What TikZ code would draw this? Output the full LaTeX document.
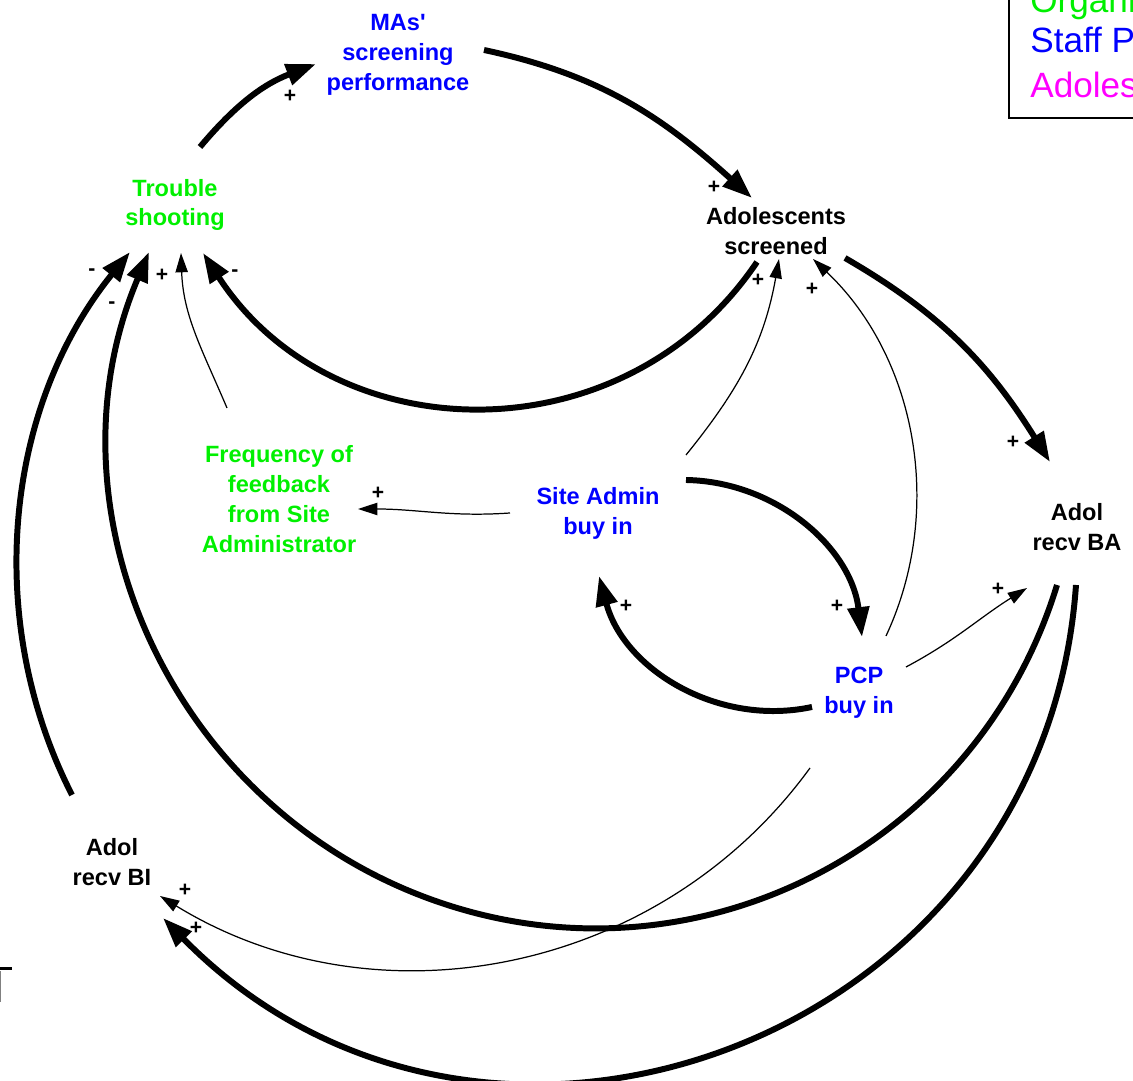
\documentclass[tikz,border=0pt]{standalone}
\usepackage{fontspec}
\setmainfont{Liberation Sans}
\usepackage{xcolor}
\usetikzlibrary{arrows.meta}

\definecolor{orggreen}{RGB}{0,240,0}
\definecolor{staffblue}{RGB}{0,0,255}
\definecolor{adolmagenta}{RGB}{255,0,255}

\begin{document}
\begin{tikzpicture}[x=0.02cm, y=0.02cm,
    var/.style={font=\bfseries\fontsize{13.4}{17}\selectfont, align=center, inner sep=0pt},
    sgn/.style={font=\bfseries\fontsize{12}{12}\selectfont, inner sep=0pt},
    strong/.style={line width=3.4pt, -{Triangle[length=17pt,width=12pt]}},
    weak/.style={line width=0.7pt, -{Triangle[length=11pt,width=7pt]}},
    legend/.style={font=\fontsize{20}{24}\selectfont, anchor=base west, inner sep=0pt}]

    \useasboundingbox (0,0) rectangle (1133,1081);
    \clip (0,0) rectangle (1133,1081);

    % Variables
    \node[var, text=staffblue] (mas) at (398,1026) {MAs\textquotesingle\\screening\\performance};
    \node[var, text=orggreen] (trouble) at (175,876) {Trouble\\shooting};
    \node[var] (screened) at (776,850) {Adolescents\\screened};
    \node[var, text=orggreen] (freq) at (279,582) {Frequency of\\feedback\\from Site\\Administrator};
    \node[var, text=staffblue] (siteadmin) at (598,568) {Site Admin\\buy in};
    \node[var] (adolba) at (1077,554) {Adol\\recv BA};
    \node[var, text=staffblue] (pcp) at (859,388) {PCP\\buy in};
    \node[var] (adolbi) at (112,219) {Adol\\recv BI};

    % Legend (cut by the page edge)
    \draw[line width=1pt] (1009,1090) rectangle (1150,963);
    \node[legend, text=orggreen] (legorg) at (1030,1068) {Organization};
    \node[legend, text=staffblue] (legstaff) at (1030,1028) {Staff Practice};
    \node[legend, text=adolmagenta] (legadol) at (1030,983) {Adolescent};

    % Corner of a box at the left edge
    \draw[line width=1.7pt] (0,112) -- (12,112);
    \draw[gray, line width=0.6pt] (0.5,110) -- (0.5,79);

    % Strong links
    \draw[strong] ([shift={(25,58)}]trouble.center) to[out=50, in=201] ([shift={(-82,-9)}]mas.center);
    \draw[strong] ([shift={(86,5)}]mas.center) to[out=-12, in=138] ([shift={(-24,33)}]screened.center);
    \draw[strong] ([shift={(-19,-31)}]screened.center) to[out=236, in=-57, distance=4.77cm] ([shift={(28,-48)}]trouble.center);
    \draw[strong] ([shift={(69,-27)}]screened.center) to[out=-30, in=122] ([shift={(-27,65)}]adolba.center);
    \coordinate (loopbottom) at (430,182);
    \draw[strong] ([shift={(-20,-58)}]adolba.center) to[out=-107, in=-20, distance=5.56cm] (loopbottom)
        to[out=160, in=247, distance=5.56cm] ([shift={(-26,-47)}]trouble.center);
    \draw[strong] ([shift={(88,33)}]siteadmin.center) to[out=-1, in=97, distance=1.8cm] ([shift={(3,56)}]pcp.center);
    \draw[strong] ([shift={(-47,-14)}]pcp.center) to[out=192, in=-75, distance=1.93cm] ([shift={(1,-63)}]siteadmin.center);
    \draw[strong] ([shift={(-1,-58)}]adolba.center) to[out=-94, in=-45.5, distance=9.17cm] ([shift={(51,-56)}]adolbi.center);
    \draw[strong] ([shift={(-40,67)}]adolbi.center) to[out=117, in=231, distance=3.96cm] ([shift={(-45,-47)}]trouble.center);

    % Weak links
    \draw[weak] ([shift={(-88,0)}]siteadmin.center) to[out=184, in=0] ([shift={(79,-10)}]freq.center);
    \draw[weak] ([shift={(-52,91)}]freq.center) to[out=113, in=-88] ([shift={(6,-48)}]trouble.center);
    \draw[weak] ([shift={(88,58)}]siteadmin.center) to[out=51, in=260] ([shift={(3,-28)}]screened.center);
    \draw[weak] ([shift={(27,57)}]pcp.center) to[out=65, in=-43.5, distance=2.82cm] ([shift={(37,-28)}]screened.center);
    \draw[weak] ([shift={(47,26)}]pcp.center) to[out=28, in=212] ([shift={(-50,-61)}]adolba.center);
    \draw[weak] ([shift={(-49,-75)}]pcp.center) to[out=-126, in=-31.5, distance=5.09cm] ([shift={(48,-34)}]adolbi.center);

    % Polarities
    \node[sgn] (s1) at (290,985) {+};
    \node[sgn] (s2) at (714,894) {+};
    \node[sgn] (s3) at (235,808) {-};
    \node[sgn] (s4) at (1013,639) {+};
    \node[sgn] (s5) at (112,776) {-};
    \node[sgn] (s6) at (92,809) {-};
    \node[sgn] (s7) at (162,806) {+};
    \node[sgn] (s8) at (378,588) {+};
    \node[sgn] (s9) at (758,801) {+};
    \node[sgn] (s10) at (812,792) {+};
    \node[sgn] (s11) at (837,475) {+};
    \node[sgn] (s12) at (626,475) {+};
    \node[sgn] (s13) at (998,492) {+};
    \node[sgn] (s14) at (185,191) {+};
    \node[sgn] (s15) at (196,153) {+};
\end{tikzpicture}
\end{document}
